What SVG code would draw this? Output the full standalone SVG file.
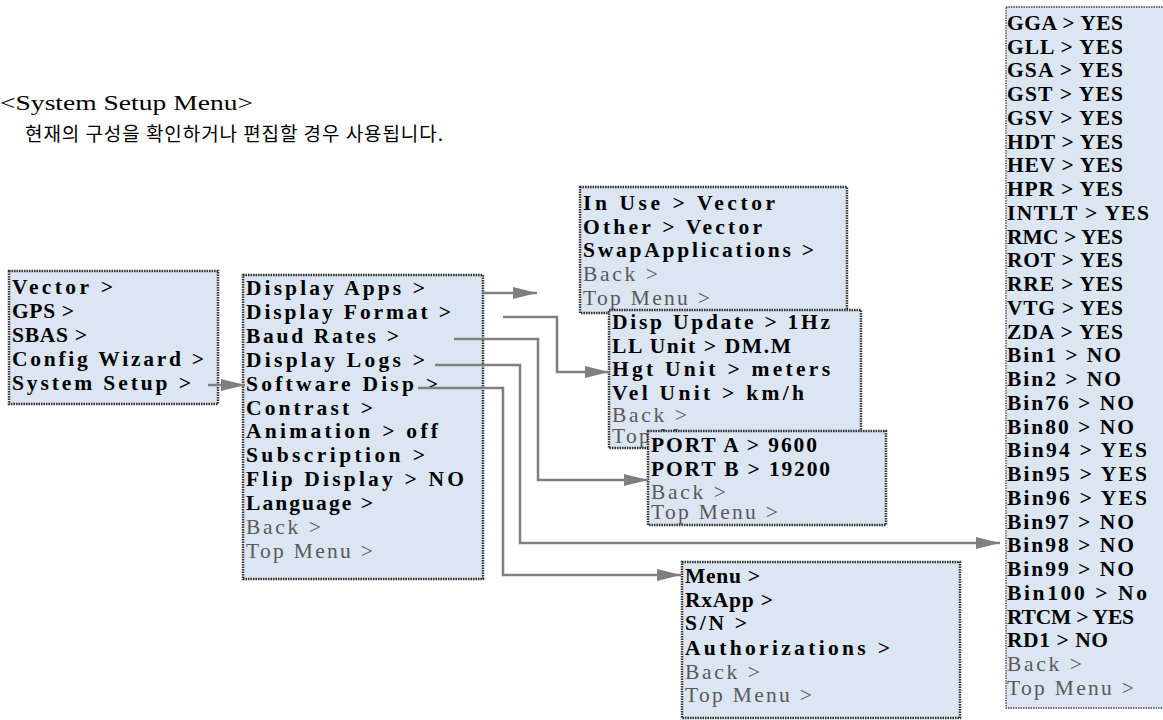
<svg xmlns="http://www.w3.org/2000/svg" width="1163" height="720" viewBox="0 0 1163 720">
<defs>
<style>
.box{fill:#dce6f2;stroke:#333;stroke-width:2.5;stroke-dasharray:1.6 0.9}
.thin{fill:#dce6f2;stroke:#444;stroke-width:1.3;stroke-dasharray:1.5 1}
.m{font-family:"Liberation Serif","DejaVu Serif",serif;font-size:21.5px;font-weight:bold;fill:#000}
.g{font-family:"Liberation Serif","DejaVu Serif",serif;font-size:21.5px;fill:#595959}
.c{fill:none;stroke:#7f7f7f;stroke-width:2.5;marker-end:url(#ah)}
</style>
<marker id="ah" markerUnits="userSpaceOnUse" markerWidth="24" markerHeight="12" refX="24" refY="6" orient="auto">
<path d="M0,0 L24,6 L0,12 z" fill="#7f7f7f"/>
</marker>
</defs>
<rect width="1163" height="720" fill="#fff"/>
<text x="0" y="110" font-family="Liberation Serif,serif" font-size="22" textLength="253" lengthAdjust="spacingAndGlyphs">&lt;System Setup Menu&gt;</text>
<text x="25" y="141" font-family="'Noto Sans CJK KR',sans-serif" font-size="19" textLength="418">현재의 구성을 확인하거나 편집할 경우 사용됩니다.</text>

<g id="main-menu">
<rect class="box" x="9" y="271" width="209" height="133"/>
<text class="m" x="12" y="294" textLength="101">Vector &gt;</text>
<text class="m" x="12" y="318" textLength="62">GPS &gt;</text>
<text class="m" x="12" y="342" textLength="75">SBAS &gt;</text>
<text class="m" x="12" y="366" textLength="192">Config Wizard &gt;</text>
<text class="m" x="12" y="390" textLength="179">System Setup &gt;</text>
</g>

<g id="system-setup">
<rect class="box" x="243" y="275" width="240" height="304"/>
<text class="m" x="246" y="295" textLength="179">Display Apps &gt;</text>
<text class="m" x="246" y="319" textLength="205">Display Format &gt;</text>
<text class="m" x="246" y="343" textLength="153">Baud Rates &gt;</text>
<text class="m" x="246" y="367" textLength="179">Display Logs &gt;</text>
<text class="m" x="246" y="391" textLength="192">Software Disp &gt;</text>
<text class="m" x="246" y="415" textLength="127">Contrast &gt;</text>
<text class="m" x="246" y="438" textLength="192">Animation &gt; off</text>
<text class="m" x="246" y="462" textLength="179">Subscription &gt;</text>
<text class="m" x="246" y="486" textLength="218">Flip Display &gt; NO</text>
<text class="m" x="246" y="510" textLength="127">Language &gt;</text>
<text class="g" x="246" y="534" textLength="75">Back &gt;</text>
<text class="g" x="246" y="558" textLength="127">Top Menu &gt;</text>
</g>

<g id="display-apps">
<rect class="box" x="580" y="187" width="267" height="126"/>
<text class="m" x="583" y="210" textLength="192">In Use &gt; Vector</text>
<text class="m" x="583" y="233.5" textLength="179">Other &gt; Vector</text>
<text class="m" x="583" y="257" textLength="231">SwapApplications &gt;</text>
<text class="g" x="583" y="281" textLength="75">Back &gt;</text>
<text class="g" x="583" y="305" textLength="127">Top Menu &gt;</text>
</g>

<g id="display-format">
<rect class="box" x="609" y="310" width="252" height="138"/>
<text class="m" x="612" y="329" textLength="218">Disp Update &gt; 1Hz</text>
<text class="m" x="612" y="352.5" textLength="179">LL Unit &gt; DM.M</text>
<text class="m" x="612" y="376" textLength="218">Hgt Unit &gt; meters</text>
<text class="m" x="612" y="400" textLength="192">Vel Unit &gt; km/h</text>
<text class="g" x="612" y="422" textLength="75">Back &gt;</text>
<text class="g" x="612" y="443" textLength="127">Top Menu &gt;</text>
</g>

<g id="baud-rates">
<rect class="box" x="648" y="431" width="238" height="94"/>
<text class="m" x="651" y="452" textLength="166">PORT A &gt; 9600</text>
<text class="m" x="651" y="476" textLength="179">PORT B &gt; 19200</text>
<text class="g" x="651" y="499" textLength="75">Back &gt;</text>
<text class="g" x="651" y="519" textLength="127">Top Menu &gt;</text>
</g>

<g id="software-disp">
<rect class="box" x="682" y="562" width="278" height="156"/>
<text class="m" x="685" y="583" textLength="75">Menu &gt;</text>
<text class="m" x="685" y="607" textLength="88">RxApp &gt;</text>
<text class="m" x="685" y="630" textLength="62">S/N &gt;</text>
<text class="m" x="685" y="654.5" textLength="205">Authorizations &gt;</text>
<text class="g" x="685" y="678.5" textLength="75">Back &gt;</text>
<text class="g" x="685" y="702" textLength="127">Top Menu &gt;</text>
</g>

<g id="display-logs">
<rect class="thin" x="1006" y="7" width="170" height="701"/>
<text class="m" x="1007" y="29.7" textLength="116">GGA &gt; YES</text>
<text class="m" x="1007" y="53.5" textLength="116">GLL &gt; YES</text>
<text class="m" x="1007" y="77.2" textLength="116">GSA &gt; YES</text>
<text class="m" x="1007" y="101" textLength="116">GST &gt; YES</text>
<text class="m" x="1007" y="124.7" textLength="116">GSV &gt; YES</text>
<text class="m" x="1007" y="148.5" textLength="116">HDT &gt; YES</text>
<text class="m" x="1007" y="172.3" textLength="116">HEV &gt; YES</text>
<text class="m" x="1007" y="196" textLength="116">HPR &gt; YES</text>
<text class="m" x="1007" y="219.8" textLength="142">INTLT &gt; YES</text>
<text class="m" x="1007" y="243.5" textLength="116">RMC &gt; YES</text>
<text class="m" x="1007" y="267.3" textLength="116">ROT &gt; YES</text>
<text class="m" x="1007" y="291" textLength="116">RRE &gt; YES</text>
<text class="m" x="1007" y="314.8" textLength="116">VTG &gt; YES</text>
<text class="m" x="1007" y="338.6" textLength="116">ZDA &gt; YES</text>
<text class="m" x="1007" y="362.3" textLength="114">Bin1 &gt; NO</text>
<text class="m" x="1007" y="386.1" textLength="114">Bin2 &gt; NO</text>
<text class="m" x="1007" y="409.8" textLength="127">Bin76 &gt; NO</text>
<text class="m" x="1007" y="433.6" textLength="127">Bin80 &gt; NO</text>
<text class="m" x="1007" y="457.3" textLength="140">Bin94 &gt; YES</text>
<text class="m" x="1007" y="481.1" textLength="140">Bin95 &gt; YES</text>
<text class="m" x="1007" y="504.9" textLength="140">Bin96 &gt; YES</text>
<text class="m" x="1007" y="528.6" textLength="127">Bin97 &gt; NO</text>
<text class="m" x="1007" y="552.4" textLength="127">Bin98 &gt; NO</text>
<text class="m" x="1007" y="576.1" textLength="127">Bin99 &gt; NO</text>
<text class="m" x="1007" y="599.9" textLength="140">Bin100 &gt; No</text>
<text class="m" x="1007" y="623.6" textLength="127">RTCM &gt; YES</text>
<text class="m" x="1007" y="647.4" textLength="101">RD1 &gt; NO</text>
<text class="g" x="1007" y="671.2" textLength="75">Back &gt;</text>
<text class="g" x="1007" y="695" textLength="127">Top Menu &gt;</text>
</g>

<g id="connectors">
<path class="c" d="M208,385 H245"/>
<path class="c" d="M483,293 H537"/>
<path class="c" d="M503,317 H557 V372 H609"/>
<path class="c" d="M454,339 H538 V480 H648"/>
<path class="c" d="M435,365 H520 V543 H1000"/>
<path class="c" d="M418,388 H503 V575 H681"/>
</g>
</svg>
